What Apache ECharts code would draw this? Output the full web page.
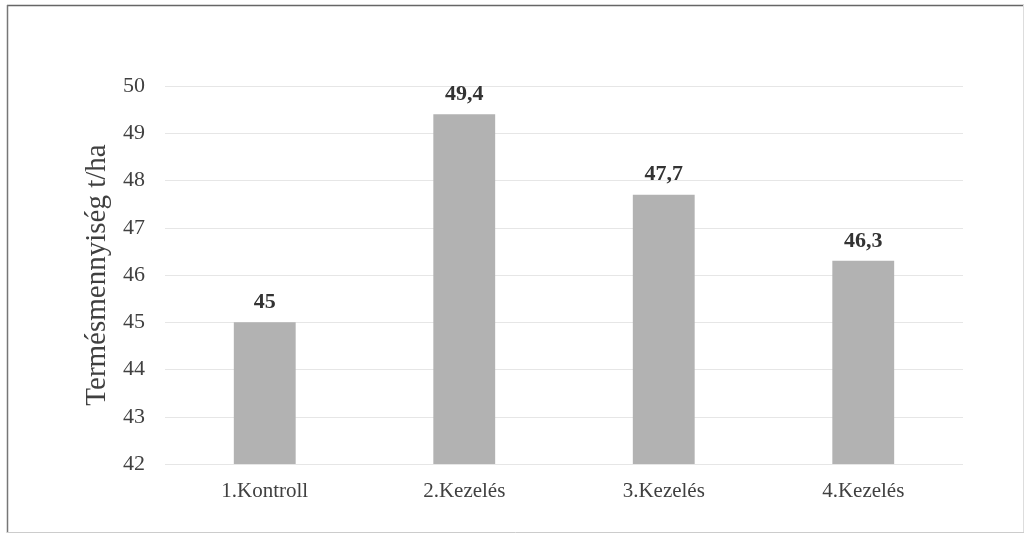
<!DOCTYPE html>
<html><head><meta charset="utf-8">
<script src="https://cdn.jsdelivr.net/npm/echarts@6/dist/echarts.min.js"></script>
<style>html,body{margin:0;padding:0;background:#fff}#c{width:1025px;height:536px}</style>
</head><body><div id="c"></div>
<script>
const categories = ['1.Kontroll', '2.Kezelés', '3.Kezelés', '4.Kezelés'];
const values = [45, 49.4, 47.7, 46.3];
const yTicks = [42, 43, 44, 45, 46, 47, 48, 49, 50];
const yName = 'Termésmennyiség t/ha';

const chart = echarts.init(document.getElementById('c'), null, {renderer: 'canvas'});
chart.setOption({
  animation: false,
  backgroundColor: '#fff',
  textStyle: {fontFamily: 'Liberation Serif'},
  graphic: [
    {type: 'line', shape: {x1: 7, y1: 5.5, x2: 1024, y2: 5.5}, style: {stroke: '#666', lineWidth: 1.5}},
    {type: 'line', shape: {x1: 7.5, y1: 5, x2: 7.5, y2: 533}, style: {stroke: '#777', lineWidth: 1.5}},
    {type: 'line', shape: {x1: 1023.5, y1: 5, x2: 1023.5, y2: 533}, style: {stroke: '#ddd', lineWidth: 1}},
    {type: 'line', shape: {x1: 7, y1: 532.5, x2: 1024, y2: 532.5}, style: {stroke: '#ccc', lineWidth: 1}}
  ],
  grid: {left: 165, right: 62, top: 86, bottom: 72},
  xAxis: {
    type: 'category', data: categories,
    axisLine: {show: false}, axisTick: {show: false},
    axisLabel: {color: '#404040', fontSize: 21, fontFamily: 'Liberation Serif', margin: 17}
  },
  yAxis: {
    type: 'value', min: yTicks[0], max: yTicks[yTicks.length - 1], interval: 1,
    name: yName, nameLocation: 'middle', nameGap: 50, nameRotate: 90,
    nameTextStyle: {color: '#404040', fontSize: 29, fontFamily: 'Liberation Serif'},
    axisLine: {show: false}, axisTick: {show: false},
    axisLabel: {color: '#404040', fontSize: 22, fontFamily: 'Liberation Serif', margin: 20},
    splitLine: {lineStyle: {color: '#e6e6e6', width: 1}}
  },
  series: [{
    type: 'bar', data: values, barWidth: '31%',
    itemStyle: {color: '#b2b2b2'},
    label: {
      show: true, position: 'top', distance: 9,
      color: '#333', fontSize: 22, fontWeight: 'bold', fontFamily: 'Liberation Serif',
      formatter: p => String(p.value).replace('.', ',')
    }
  }]
});
</script></body></html>
